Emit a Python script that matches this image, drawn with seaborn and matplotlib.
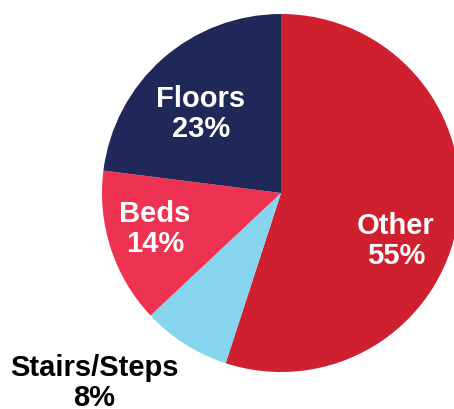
import matplotlib
matplotlib.use("Agg")
import matplotlib.pyplot as plt
import seaborn as sns

# Share of falls by location
categories = ["Other", "Stairs/Steps", "Beds", "Floors"]
shares = [55, 8, 14, 23]

palette = sns.color_palette(["#CF2030", "#87D4EF", "#EE3352", "#1F2858"])

sns.set_theme(style="white")
plt.rcParams["font.family"] = ["Liberation Sans", "DejaVu Sans"]

fig = plt.figure(figsize=(4.54, 4.09), dpi=100)
ax = fig.add_axes([0, 0, 1, 1])

# pie centre / radius in pixel units of the canvas
cx, cy, r = 281, 409 - 193, 179
ax.pie(shares, colors=palette, startangle=90, counterclock=False,
       center=(cx, cy), radius=r, frame=True,
       wedgeprops=dict(linewidth=0))
ax.set_xlim(0, 454)
ax.set_ylim(0, 409)
ax.set_aspect("equal")
ax.axis("off")

# label placement (pixel coords, y from top)
label_pos = {
    "Other": (396, 241, "white"),
    "Stairs/Steps": (94, 383, "black"),
    "Beds": (155, 229, "white"),
    "Floors": (201, 114, "white"),
}
for cat, val in zip(categories, shares):
    x, y, col = label_pos[cat]
    ax.text(x, 409 - y, f"{cat}\n{val}%", ha="center", va="center",
            color=col, fontsize=21, fontweight="bold", linespacing=1.12)

fig.savefig("out.png", dpi=100)
